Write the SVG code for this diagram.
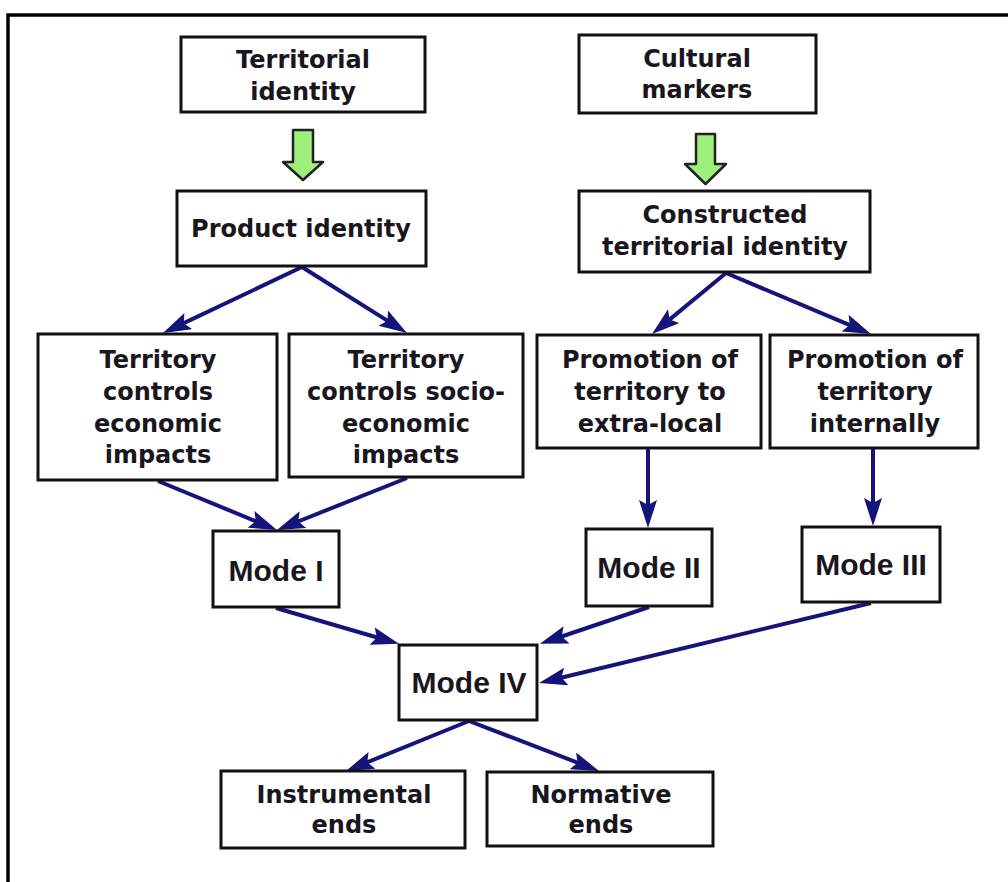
<svg xmlns="http://www.w3.org/2000/svg" width="1008" height="882" viewBox="0 0 1008 882">
  <style>
    .box { fill: #ffffff; stroke: #111111; stroke-width: 3; }
    .frame { fill: none; stroke: #000000; stroke-width: 3.5; }
    .lbl { font-family: "DejaVu Sans", Verdana, sans-serif; font-weight: bold; font-size: 24px; fill: #1a1620; text-anchor: middle; }
    .mode { font-family: "Liberation Sans", Arial, sans-serif; font-weight: bold; font-size: 30px; fill: #1a1620; text-anchor: middle; }
    .link { fill: none; stroke: #14147a; stroke-width: 4; }
    .flow { fill: #9ef07c; stroke: #222222; stroke-width: 2.5; stroke-linejoin: round; }
  </style>
  <defs>
    <!-- arrowhead: tip sits 12px beyond the line end -->
    <marker id="head" markerUnits="userSpaceOnUse" markerWidth="30" markerHeight="20" refX="16" refY="9" orient="auto" viewBox="0 0 30 20">
      <path d="M0,0 L28,9 L0,18 L5,9 z" fill="#14147a"/>
    </marker>
  </defs>

  <rect width="1008" height="882" fill="#ffffff"/>
  <!-- page frame -->
  <rect class="frame" x="8" y="15" width="1020" height="890"/>

  <!-- green block arrows -->
  <g id="flow-arrows">
    <path class="flow" d="M293,130 L313,130 L313,162 L323,162 L303,180 L283,162 L293,162 z"/>
    <path class="flow" d="M696,134 L715,134 L715,164 L726,164 L705.5,184 L685,164 L696,164 z"/>
  </g>

  <!-- connectors -->
  <g id="connectors">
    <line class="link" x1="302" y1="267" x2="173.8" y2="327.9" marker-end="url(#head)"/>
    <line class="link" x1="302" y1="267" x2="396.8" y2="326.6" marker-end="url(#head)"/>
    <line class="link" x1="726" y1="273" x2="661.3" y2="326.4" marker-end="url(#head)"/>
    <line class="link" x1="726" y1="273" x2="859.9" y2="329.3" marker-end="url(#head)"/>
    <line class="link" x1="158" y1="481" x2="265.9" y2="525.4" marker-end="url(#head)"/>
    <line class="link" x1="407" y1="478" x2="288.1" y2="525.5" marker-end="url(#head)"/>
    <line class="link" x1="648" y1="449" x2="648" y2="516" marker-end="url(#head)"/>
    <line class="link" x1="873" y1="449" x2="873" y2="514" marker-end="url(#head)"/>
    <line class="link" x1="276" y1="608" x2="387.5" y2="640.5" marker-end="url(#head)"/>
    <line class="link" x1="649" y1="607" x2="551.3" y2="640" marker-end="url(#head)"/>
    <line class="link" x1="871" y1="603" x2="550.7" y2="680.2" marker-end="url(#head)"/>
    <line class="link" x1="469" y1="721" x2="357.1" y2="766.4" marker-end="url(#head)"/>
    <line class="link" x1="469" y1="721" x2="587.8" y2="766.6" marker-end="url(#head)"/>
  </g>

  <g id="territorial-identity">
    <rect class="box" x="181" y="37" width="244" height="75"/>
    <text class="lbl" x="303" y="68">Territorial</text>
    <text class="lbl" x="303" y="100">identity</text>
  </g>
  <g id="cultural-markers">
    <rect class="box" x="579" y="35" width="237" height="78"/>
    <text class="lbl" x="697" y="67">Cultural</text>
    <text class="lbl" x="697" y="98">markers</text>
  </g>
  <g id="product-identity">
    <rect class="box" x="177" y="191" width="249" height="75"/>
    <text class="lbl" x="301" y="237">Product identity</text>
  </g>
  <g id="constructed-identity">
    <rect class="box" x="579" y="191" width="291" height="81"/>
    <text class="lbl" x="725" y="223">Constructed</text>
    <text class="lbl" x="725" y="255">territorial identity</text>
  </g>
  <g id="economic-impacts">
    <rect class="box" x="38" y="334" width="239" height="146"/>
    <text class="lbl" x="158" y="368">Territory</text>
    <text class="lbl" x="158" y="400">controls</text>
    <text class="lbl" x="158" y="432">economic</text>
    <text class="lbl" x="158" y="463">impacts</text>
  </g>
  <g id="socio-economic-impacts">
    <rect class="box" x="289" y="334" width="234" height="143"/>
    <text class="lbl" x="406" y="368">Territory</text>
    <text class="lbl" x="406" y="400">controls socio-</text>
    <text class="lbl" x="406" y="432">economic</text>
    <text class="lbl" x="406" y="463">impacts</text>
  </g>
  <g id="promotion-extra-local">
    <rect class="box" x="537" y="335" width="224" height="113"/>
    <text class="lbl" x="650" y="368">Promotion of</text>
    <text class="lbl" x="650" y="400">territory to</text>
    <text class="lbl" x="650" y="432">extra-local</text>
  </g>
  <g id="promotion-internal">
    <rect class="box" x="770" y="335" width="208" height="113"/>
    <text class="lbl" x="875" y="368">Promotion of</text>
    <text class="lbl" x="875" y="400">territory</text>
    <text class="lbl" x="875" y="432">internally</text>
  </g>
  <g id="mode-1">
    <rect class="box" x="213" y="531" width="126" height="76"/>
    <text class="mode" x="276" y="581">Mode I</text>
  </g>
  <g id="mode-2">
    <rect class="box" x="586" y="529" width="126" height="77"/>
    <text class="mode" x="649" y="578">Mode II</text>
  </g>
  <g id="mode-3">
    <rect class="box" x="802" y="527" width="138" height="75"/>
    <text class="mode" x="871" y="575">Mode III</text>
  </g>
  <g id="mode-4">
    <rect class="box" x="399" y="645" width="138" height="75"/>
    <text class="mode" x="469" y="693">Mode IV</text>
  </g>
  <g id="instrumental-ends">
    <rect class="box" x="221" y="771" width="244" height="77"/>
    <text class="lbl" x="344" y="803">Instrumental</text>
    <text class="lbl" x="344" y="833">ends</text>
  </g>
  <g id="normative-ends">
    <rect class="box" x="487" y="772" width="226" height="74"/>
    <text class="lbl" x="601" y="803">Normative</text>
    <text class="lbl" x="601" y="833">ends</text>
  </g>
</svg>
